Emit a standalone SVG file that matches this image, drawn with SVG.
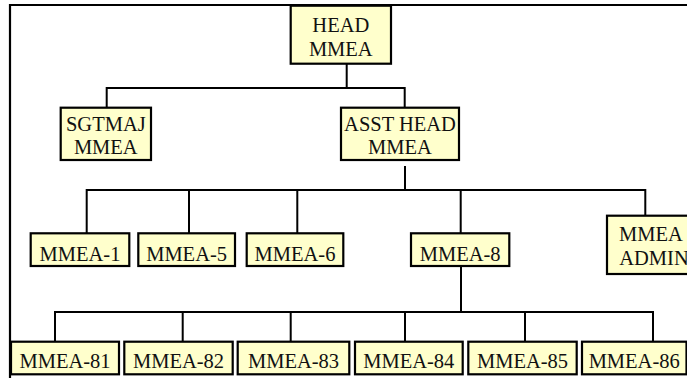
<svg xmlns="http://www.w3.org/2000/svg" width="687" height="378" viewBox="0 0 687 378">
<style>
.box{fill:#FFFFCC;stroke:#000;stroke-width:2.2}
.t{font-family:'Liberation Serif','Times New Roman',serif;font-size:20.5px;fill:#111;text-anchor:middle}
.c{fill:none;stroke:#000;stroke-width:2}
</style>
<rect width="687" height="378" fill="#fff"/>
<path d="M10,380 V5 H700" fill="none" stroke="#000" stroke-width="2.2"/>
<g id="connectors" class="c">
<path d="M346.7,63.7 V88 M106.7,107.7 V88 H404.7 V107.7"/>
<path d="M405,166 V190 M86.7,233.3 V190 H645.3 V215.7 M189,190 V233.3 M297.3,190 V233.3 M460.7,190 V233.3"/>
<path d="M461,266 V312 M55,341.7 V312 H653 V341.7 M182.7,312 V341.7 M290.7,312 V341.7 M405,312 V341.7 M525,312 V341.7"/>
</g>
<g id="head"><rect class="box" x="290.7" y="5.7" width="100.3" height="58"/><text class="t" x="340.8" y="32.3">HEAD</text><text class="t" x="340.8" y="56">MMEA</text></g>
<g id="sgtmaj"><rect class="box" x="60.7" y="107.7" width="90.3" height="52.3"/><text class="t" x="105.8" y="130.7">SGTMAJ</text><text class="t" x="105.8" y="154">MMEA</text></g>
<g id="asst"><rect class="box" x="341" y="107.7" width="118" height="52.3"/><text class="t" x="400" y="130.7">ASST HEAD</text><text class="t" x="400" y="154">MMEA</text></g>
<g id="mmea1"><rect class="box" x="30.7" y="233.3" width="98.6" height="32.7"/><text class="t" x="80" y="260.7">MMEA-1</text></g>
<g id="mmea5"><rect class="box" x="138.3" y="233.3" width="96.7" height="32.7"/><text class="t" x="186.6" y="260.7">MMEA-5</text></g>
<g id="mmea6"><rect class="box" x="246.7" y="233.3" width="96.6" height="32.7"/><text class="t" x="295" y="260.7">MMEA-6</text></g>
<g id="mmea8"><rect class="box" x="411" y="233.3" width="98.3" height="32.7"/><text class="t" x="460.2" y="260.7">MMEA-8</text></g>
<g id="admin"><rect class="box" x="607" y="215.7" width="90" height="58.3"/><text class="t" x="651" y="241">MMEA</text><text class="t" x="654" y="265">ADMIN</text></g>
<g id="mmea81"><rect class="box" x="11" y="341.7" width="108" height="32.6"/><text class="t" x="65" y="368.3">MMEA-81</text></g>
<g id="mmea82"><rect class="box" x="124.3" y="341.7" width="108.4" height="32.6"/><text class="t" x="178.5" y="368.3">MMEA-82</text></g>
<g id="mmea83"><rect class="box" x="237.7" y="341.7" width="111.6" height="32.6"/><text class="t" x="293.5" y="368.3">MMEA-83</text></g>
<g id="mmea84"><rect class="box" x="355" y="341.7" width="107.7" height="32.6"/><text class="t" x="408.8" y="368.3">MMEA-84</text></g>
<g id="mmea85"><rect class="box" x="468.3" y="341.7" width="108.4" height="32.6"/><text class="t" x="522.5" y="368.3">MMEA-85</text></g>
<g id="mmea86"><rect class="box" x="582" y="341.7" width="104.5" height="32.6"/><text class="t" x="634.2" y="368.3">MMEA-86</text></g>
</svg>
